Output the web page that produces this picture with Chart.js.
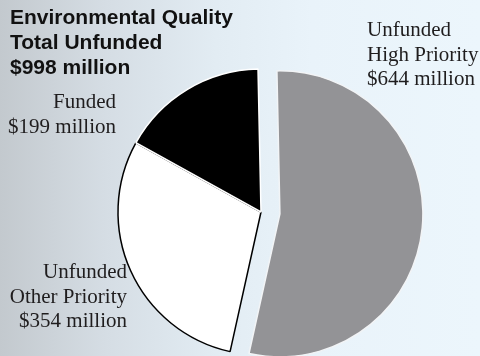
<!DOCTYPE html>
<html>
<head>
<meta charset="utf-8">
<script src="https://cdn.jsdelivr.net/npm/chart.js@4"></script>
<style>
  html, body { margin: 0; padding: 0; }
  body {
    width: 480px; height: 356px; overflow: hidden;
    background: linear-gradient(to right, #c3c9ce 0%, #d5dde4 22%, #e2ecf3 45%, #e9f3fa 65%, #ecf6fc 100%);
  }
  #wrap { position: relative; width: 480px; height: 356px; }
</style>
</head>
<body>
<div id="wrap"><canvas id="pie"></canvas></div>
<script>
// slices go clockwise from 12 o'clock
const categories = [['Unfunded', 'High Priority'], ['Unfunded', 'Other Priority'], ['Funded']];
const amounts = [644, 354, 199]; // $ millions
const sliceColors = ['#939396', '#ffffff', '#000000'];
const edgeColors = ['#f2f4f6', '#000000', '#ffffff'];
const pullOut = [76, 0, 0]; // chart.js moves a slice by offset / 4

const unfundedTotal = amounts[0] + amounts[1];
const titleLines = ['Environmental Quality', 'Total Unfunded', '$' + unfundedTotal + ' million'];

// where each slice's caption sits: x, first baseline, alignment
const captionSpots = [
    { x: 367, y: 36, align: 'left' },
    { x: 127, y: 278, align: 'right' },
    { x: 116, y: 108, align: 'right' }
];

const fmt = v => '$' + v + ' million';

const captions = {
    id: 'captions',
    afterDatasetsUpdate(chart) {
        // keep the pulled slice the same size and sweep as the others
        chart.getDatasetMeta(0).data.forEach(arc => {
            const off = (arc.options.offset || 0) / 4;
            if (!off) return;
            const sweep = arc.endAngle - arc.startAngle;
            const fix = 1 - Math.sin(Math.min(Math.PI, sweep));
            arc.outerRadius -= off * 4 * fix / 4;
            const grow = (off * fix / Math.PI) / (arc.outerRadius + off * fix) / 2;
            arc.startAngle -= grow;
            arc.endAngle += grow;
        });
    },
    afterDraw(chart) {
        const ctx = chart.ctx;
        ctx.save();
        ctx.fillStyle = '#111';
        ctx.textBaseline = 'alphabetic';

        ctx.font = 'bold 21px "Liberation Sans", Arial, sans-serif';
        ctx.textAlign = 'left';
        titleLines.forEach((t, i) => ctx.fillText(t, 10, 24 + i * 25));

        ctx.font = '21px "Liberation Serif", "Times New Roman", serif';
        ctx.fillStyle = '#1f1d1e';
        categories.forEach((lines, i) => {
            const spot = captionSpots[i];
            ctx.textAlign = spot.align;
            const all = lines.concat([fmt(amounts[i])]);
            all.forEach((t, j) => ctx.fillText(t, spot.x, spot.y + j * 24.5));
        });
        ctx.restore();
    }
};

new Chart(document.getElementById('pie'), {
    type: 'pie',
    data: {
        labels: categories.map(c => c.join(' ')),
        datasets: [{
            data: amounts,
            backgroundColor: sliceColors,
            borderColor: edgeColors,
            borderWidth: 1.5,
            offset: pullOut,
            radius: 143,
            clip: false
        }]
    },
    options: {
        responsive: true,
        maintainAspectRatio: false,
        animation: false,
        events: [],
        rotation: -1.2,
        layout: { padding: { left: 117, right: 75, top: 68, bottom: 0 } },
        plugins: {
            legend: { display: false },
            tooltip: { enabled: false }
        }
    },
    plugins: [captions]
});
</script>
</body>
</html>
